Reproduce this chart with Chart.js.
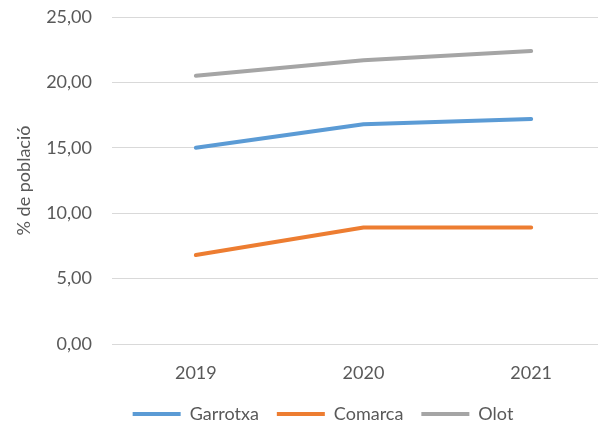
<!DOCTYPE html>
<html>
<head>
<meta charset="utf-8">
<script src="https://cdn.jsdelivr.net/npm/chart.js@4/dist/chart.umd.min.js"></script>
<style>
html,body{margin:0;padding:0;overflow:hidden;background:#fff;width:598px;height:426px;}
#wrap{position:absolute;left:0;top:0;width:646px;height:433px;}
</style>
</head>
<body>
<div id="wrap"><canvas id="c" width="646" height="433"></canvas></div>
<script>
const categories = ['2019', '2020', '2021'];
const garrotxa = [15.0, 16.8, 17.2];
const comarca = [6.8, 8.9, 8.9];
const olot = [20.5, 21.7, 22.4];
const yTickLabels = ['0,00', '5,00', '10,00', '15,00', '20,00', '25,00'];
const seriesNames = ['Garrotxa', 'Comarca', 'Olot'];
const yAxisTitle = '% de població';

const TXT = '#595959';
const FONT = 'Lato';
const colors = ['#5B9BD5', '#ED7D31', '#A5A5A5'];
const seriesData = [garrotxa, comarca, olot];

const datasets = seriesNames.map((n, i) => ({
  label: n,
  data: seriesData[i],
  borderColor: colors[i],
  backgroundColor: colors[i],
  borderWidth: 4,
  borderCapStyle: 'round',
  borderJoinStyle: 'round',
  pointRadius: 0,
  pointHoverRadius: 0,
  tension: 0,
  fill: false
}));

new Chart(document.getElementById('c'), {
  type: 'line',
  data: { labels: categories, datasets },
  options: {
    responsive: false,
    animation: false,
    devicePixelRatio: 1,
    layout: { padding: { left: 31, right: 31, top: 17, bottom: 0 } },
    plugins: {
      tooltip: { enabled: false },
      legend: {
        position: 'bottom',
        labels: {
          usePointStyle: true,
          pointStyle: 'line',
          pointStyleWidth: 48,
          padding: 18,
          color: TXT,
          font: { family: FONT, size: 18 }
        }
      }
    },
    scales: {
      x: {
        offset: true,
        grid: { display: false, drawTicks: false },
        border: { display: false },
        ticks: { color: TXT, font: { family: FONT, size: 18 }, padding: 18, maxRotation: 0 },
        afterFit: (s) => { s.height = 43; }
      },
      y: {
        min: 0,
        max: 25,
        grid: { color: '#D9D9D9', lineWidth: 1, drawTicks: false },
        border: { display: false },
        ticks: {
          stepSize: 5,
          color: TXT,
          font: { family: FONT, size: 18 },
          padding: 20,
          callback: (v) => yTickLabels[Math.round(v / 5)]
        },
        title: {
          display: true,
          text: yAxisTitle,
          color: TXT,
          font: { family: FONT, size: 18 },
          padding: { top: -17.3, bottom: 0 }
        },
        afterFit: (s) => { s.width = 81; s.paddingTop = 11; s.paddingBottom = 11; }
      }
    }
  }
});
</script>
</body>
</html>
